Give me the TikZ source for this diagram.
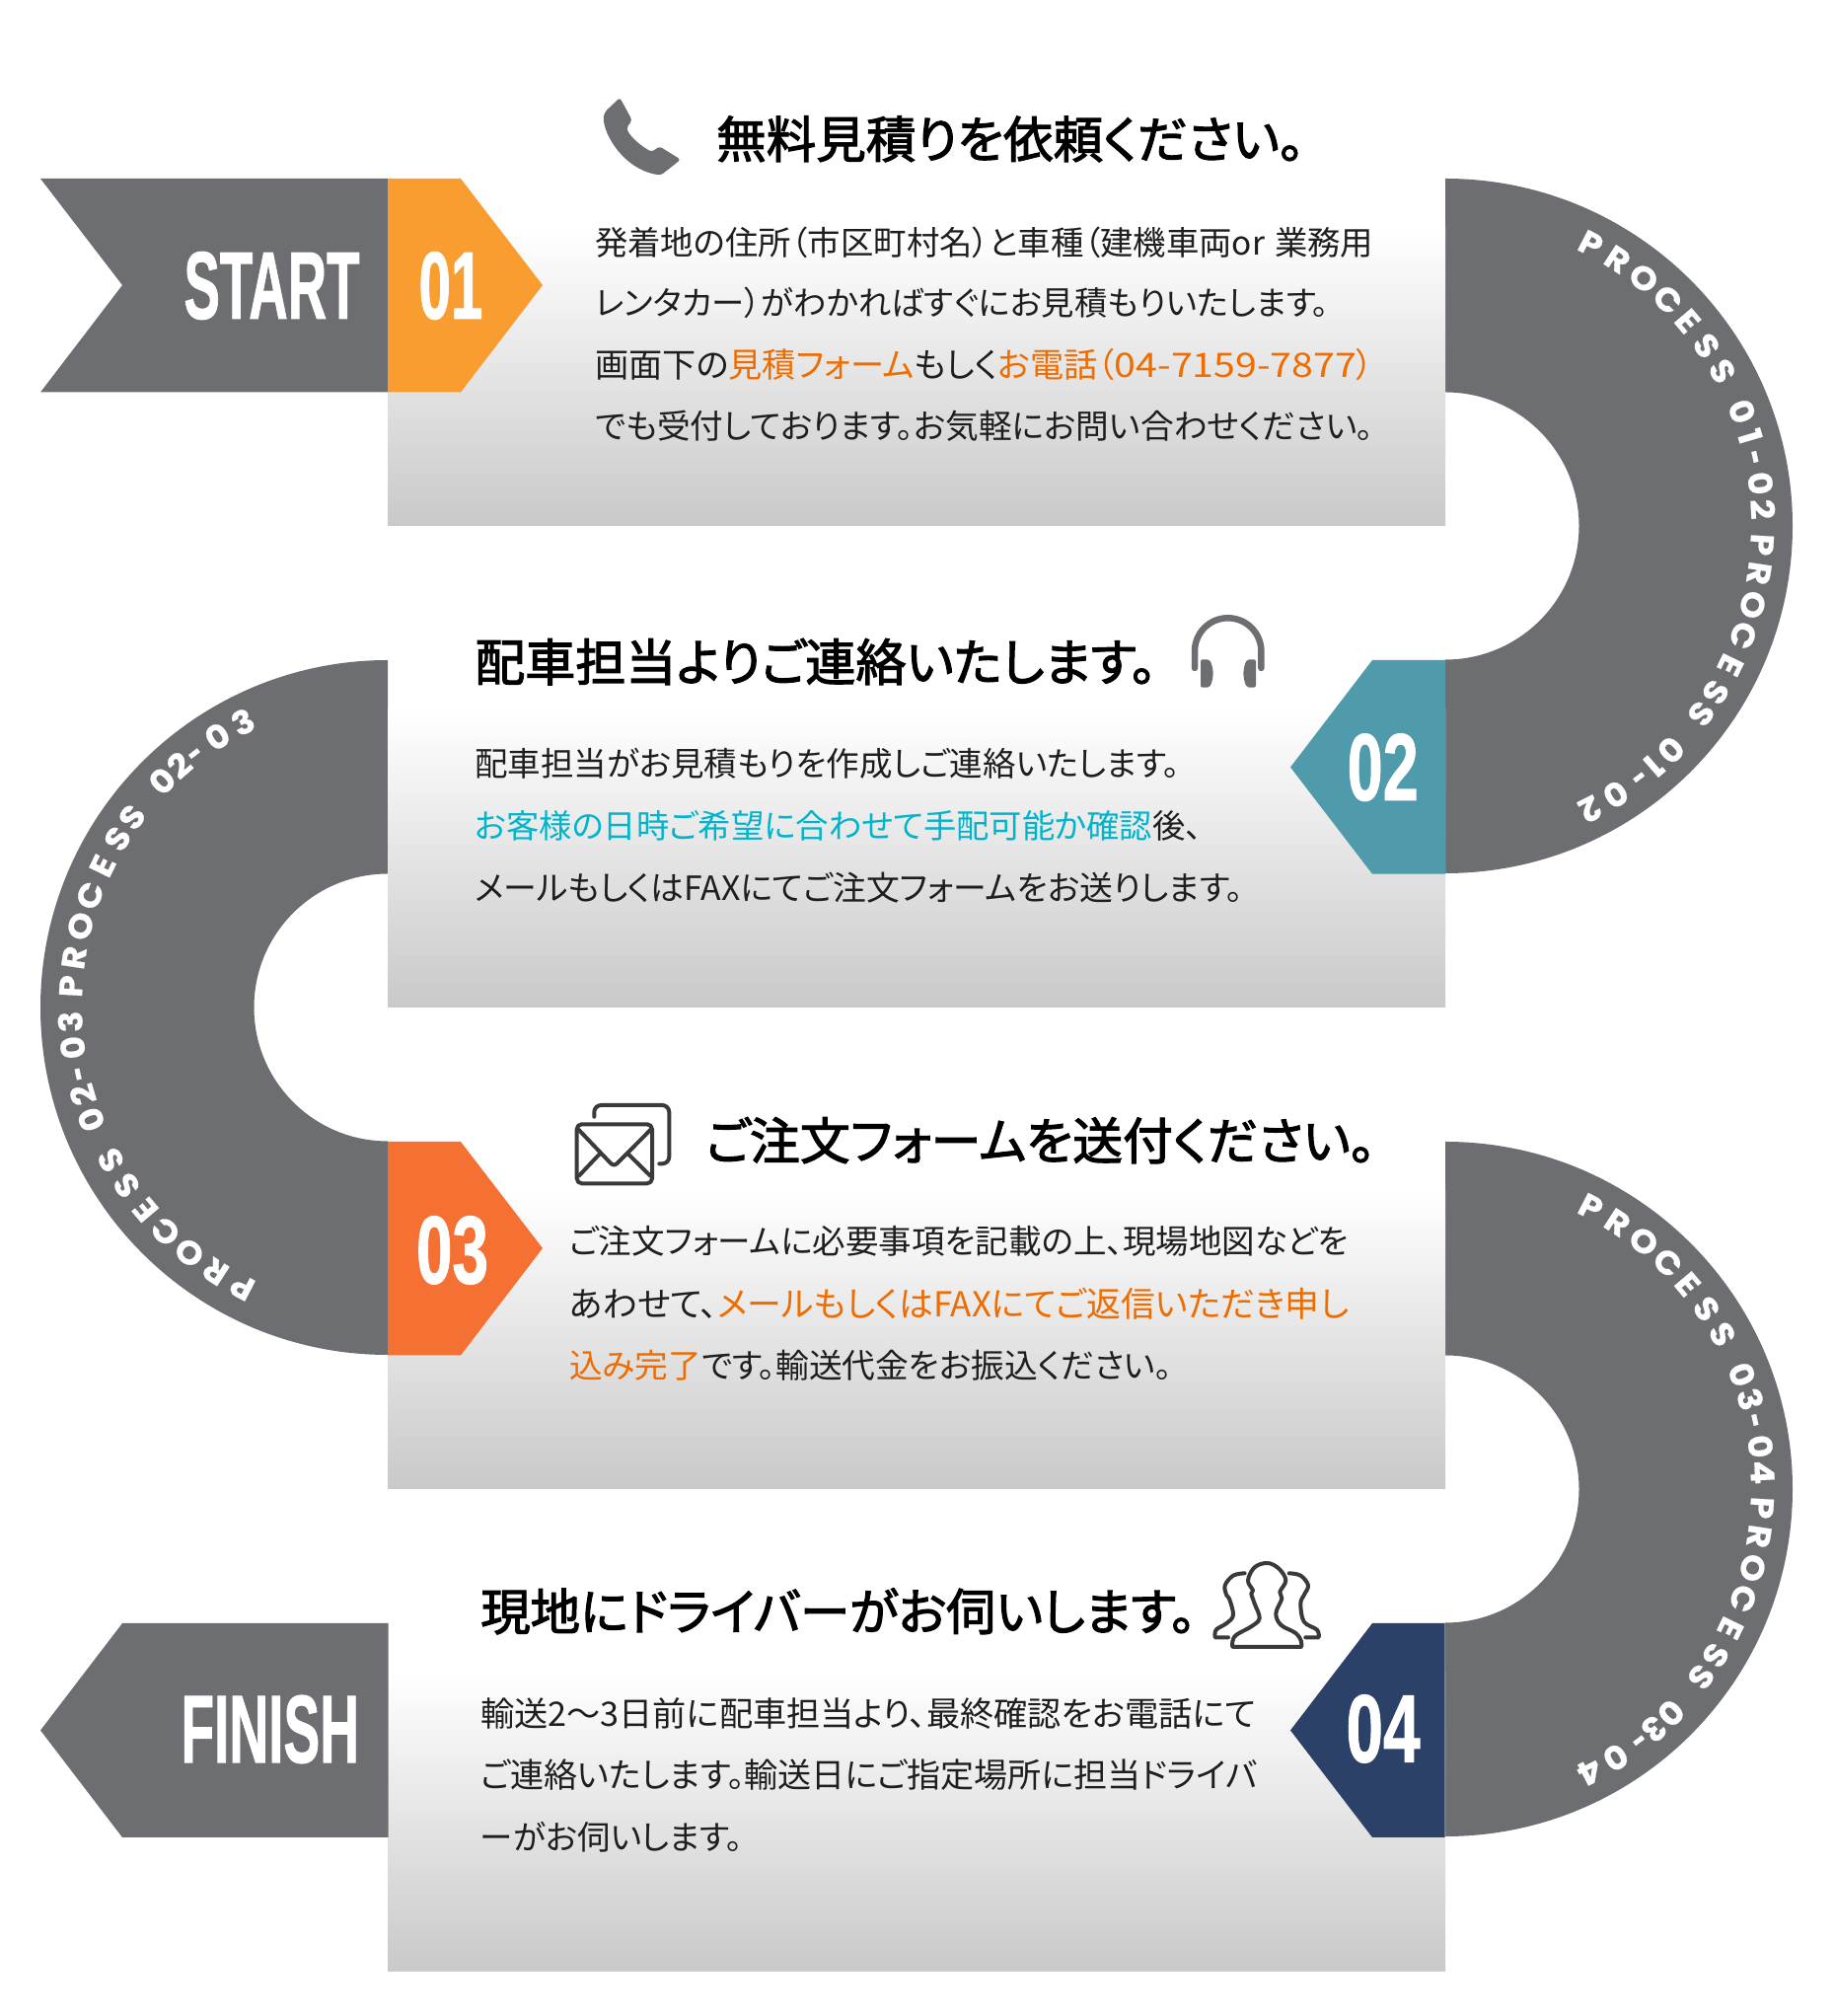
\documentclass[tikz,border=0pt]{standalone}
\usepackage{fontspec}
\usepackage{graphicx}
\newfontfamily\jp{Noto Sans CJK JP}[RawFeature={+palt}]
\newfontfamily\jpt{Noto Sans CJK JP}[RawFeature={+palt},FakeBold=2.2]
\newfontfamily\ringf{Poppins}[FakeBold=0.6,FakeStretch=1.08]
\newfontfamily\numf{Liberation Sans}[FakeBold=1.2]
\definecolor{ringgray}{HTML}{6D6E71}
\definecolor{boxbot}{HTML}{C9C9C9}
\definecolor{c01}{HTML}{F99D31}
\definecolor{c02}{HTML}{4F9AAB}
\definecolor{c03}{HTML}{F47133}
\definecolor{c04}{HTML}{2C4168}
\definecolor{hiO}{HTML}{EF6C00}
\definecolor{hiC}{HTML}{00B4CC}
\definecolor{bodyc}{HTML}{1E1E1E}
\definecolor{iconc}{HTML}{3A3A3A}
\newcommand\orng[1]{\textcolor{hiO}{#1}}
\newcommand\cyn[1]{\textcolor{hiC}{#1}}
\newcommand\hyp{\scalebox{.7}[1]{-}}
\tikzset{
  grad/.style={top color=white,bottom color=boxbot,draw=none},
  ringch/.style={anchor=base,inner sep=0pt,text=white,font=\ringf\bfseries\fontsize{33}{36}\selectfont},
  txt/.style={anchor=base west,inner sep=0pt},
  bigtxt/.style={inner sep=0pt,text=white},
  iconline/.style={draw=iconc,line width=4pt,line cap=round,line join=round},
}
\newcommand\bodyl[5]{\node[txt,name=#1,text=bodyc] at (#2,#3) {\resizebox{#4pt}{!}{\jp\fontsize{32}{38}\selectfont #5}};}
\newcommand\titlel[5]{\node[txt,name=#1,text=black] at (#2,#3) {\resizebox{#4pt}{!}{\jpt\fontsize{50}{60}\selectfont #5}};}
\newcommand\biglab[6]{\node[bigtxt,name=#1] at (#2,#3) {\resizebox{#4pt}{#5pt}{\numf\bfseries #6}};}
\newcommand\ringtext[8]{%
  \foreach[count=\i] \c/\o in {P/0,R/5.6,O/11.4,C/17.2,E/22.5,S/28.1,S/33.5,#5/41.6,#6/46.3,\hyp/50.2,#7/55,#8/59.7,
    P/66.1,R/71.3,O/77.1,C/82.9,E/88.7,S/94.3,S/99,#5/107.5,#6/111.7,\hyp/115.2,#7/120.3,#8/125.6}{%
    \pgfmathsetmacro\ang{#4-\o}
    \node[ringch,rotate=\ang-90,name=#1-\i] at ({#2+310*cos(\ang)},{#3-310*sin(\ang)}) {\c};
  }%
}
\begin{document}
\begin{tikzpicture}[x=1pt,y=1pt]
\useasboundingbox (0,0) rectangle (1858,2043);
% rings (y up)
\fill[ringgray] (1465,1862) arc[start angle=90,end angle=-90,radius=352pt] -- (1465,1374.5) arc[start angle=-90,end angle=90,radius=135.5pt] -- cycle;
\fill[ringgray] (393,1374) arc[start angle=90,end angle=270,radius=352pt] -- (393,886.5) arc[start angle=270,end angle=90,radius=135.5pt] -- cycle;
\fill[ringgray] (1465,886) arc[start angle=90,end angle=-90,radius=352pt] -- (1465,398.5) arc[start angle=-90,end angle=90,radius=135.5pt] -- cycle;
\begin{scope}[shift={(0,2043)},y=-1pt]
% boxes: white for the first stretch, then the gradient
\shade[grad] (393,231) rectangle (1465,533);
\shade[grad] (393,719) rectangle (1465,1021);
\shade[grad] (393,1207) rectangle (1465,1509);
\shade[grad] (393,1695) rectangle (1465,1997.5);
% flags
\fill[ringgray] (41,181) -- (393.5,181) -- (393.5,397.5) -- (41,397.5) -- (124,289) -- cycle;
\fill[ringgray] (393.5,1645) -- (393.5,1862) -- (124,1862) -- (41,1753.5) -- (124,1645) -- cycle;
\fill[c01] (393,181) -- (467,181) -- (550,289) -- (467,397.5) -- (393,397.5) -- cycle;
\fill[c02] (1465,669) -- (1391,669) -- (1308,777.5) -- (1391,885.7) -- (1465,885.7) -- cycle;
\fill[c03] (393,1157) -- (467,1157) -- (550,1265) -- (467,1373.5) -- (393,1373.5) -- cycle;
\fill[c04] (1464.5,1645) -- (1391,1645) -- (1308,1753.5) -- (1391,1862) -- (1464.5,1862) -- cycle;
% big labels
\biglab{start}{275.5}{289.5}{178}{67.7}{START}
\biglab{n01}{457}{289.5}{65}{67.7}{01}
\biglab{n02}{1401.7}{777.7}{72}{67.3}{02}
\biglab{n03}{458.5}{1267}{73}{68}{03}
\biglab{n04}{1402}{1752}{75}{68}{04}
\biglab{finish}{273.7}{1752.5}{180.5}{68}{FINISH}
% ring text
\ringtext{ra}{1465}{533}{62.7}{0}{1}{0}{2}
\ringtext{rb}{393}{1018.5}{242.7}{0}{2}{0}{3}
\ringtext{rc}{1465}{1509}{62.7}{0}{3}{0}{4}
% titles
\titlel{t1}{726}{160}{596}{無料見積りを依頼ください。}
\titlel{t2}{481}{690}{691}{配車担当よりご連絡いたします。}
\titlel{t3}{715}{1175}{679}{ご注文フォームを送付ください。}
\titlel{t4}{487}{1652}{725}{現地にドライバーがお伺いします。}
% body 1
\bodyl{b11}{603}{258.5}{789}{発着地の住所（市区町村名）と車種（建機車両or\hspace{.3em}業務用}
\bodyl{b12}{603}{320}{744}{レンタカー）がわかればすぐにお見積もりいたします。}
\bodyl{b13}{603}{383}{789}{画面下の\orng{見積フォーム}もしく\orng{お電話（\scalebox{1.15}[1]{04-7159-7877}）}}
\bodyl{b14}{603}{445}{789}{でも受付しております。お気軽にお問い合わせください。}
% body 2
\bodyl{b21}{481}{787}{715}{配車担当がお見積もりを作成しご連絡いたします。}
\bodyl{b22}{481}{850}{737}{\cyn{お客様の日時ご希望に合わせて手配可能か確認}後、}
\bodyl{b23}{481}{912.5}{779}{メールもしくはFAXにてご注文フォームをお送りします。}
% body 3
\bodyl{b31}{577}{1271}{790}{ご注文フォームに必要事項を記載の上、現場地図などを}
\bodyl{b32}{577}{1334.5}{790}{あわせて、\orng{メールもしくはFAXにてご返信いただき申し}}
\bodyl{b33}{577}{1397}{611}{\orng{込み完了}です。輸送代金をお振込ください。}
% body 4
\bodyl{b41}{487}{1750}{786}{輸送2～3日前に配車担当より、最終確認をお電話にて}
\bodyl{b42}{487}{1812}{787}{ご連絡いたします。輸送日にご指定場所に担当ドライバ}
\bodyl{b43}{487}{1875}{266}{ーがお伺いします。}
% phone icon
\fill[ringgray,rounded corners=3pt] (628.3,99) -- (613.3,113.3)
  .. controls (608,130) and (630,172) .. (670,177.5)
  -- (690,161.7) -- (668.3,148.3) -- (660.7,154)
  .. controls (650,148) and (640,140) .. (635,130)
  -- (640.7,121.7) -- cycle;
% headphones
\draw[ringgray,line width=6.5pt,line cap=round] (1211,677) -- (1211,660) arc[start angle=180,end angle=0,radius=33.7pt] -- (1278.4,677);
\fill[ringgray,rounded corners=2pt] (1217,668.3) -- (1226,668.3) .. controls (1230.5,678) and (1230.5,687) .. (1226,696.7) -- (1217,696.7) -- cycle;
\fill[ringgray,rounded corners=2pt] (1273,668.3) -- (1264,668.3) .. controls (1259.5,678) and (1259.5,687) .. (1264,696.7) -- (1273,696.7) -- cycle;
% mail icon
\draw[iconline,rounded corners=5pt] (584.7,1139.3) rectangle (661,1199.3);
\draw[iconline,rounded corners=4pt] (586.7,1145) -- (622.3,1182.3) -- (659.3,1145);
\draw[iconline] (607.3,1170) -- (586.7,1191.7);
\draw[iconline] (637.3,1170) -- (659.3,1191.7);
\draw[iconline,rounded corners=7pt] (602.3,1131.7) -- (602.3,1120) -- (678.3,1120) -- (678.3,1179.3) -- (668.3,1179.3);
% people icon
\begin{scope}[shift={(1210,1560)},x=.3333pt,y=-.3333pt]
\draw[iconline] plot[smooth,tension=.6] coordinates {(118,327) (118,310) (130,290) (175,265) (200,240) (185,195) (175,165) (180,155) (165,125) (185,85) (225,72) (260,90) (280,125) (262,160) (268,180) (250,225) (265,260) (310,285) (327,310) (327,327)} -- cycle;
\draw[iconline] plot[smooth,tension=.6] coordinates {(155,103) (120,110) (95,140) (100,170) (108,180) (120,230) (100,255) (68,275) (65,298)} -- (105,298);
\draw[iconline] plot[smooth,tension=.6] coordinates {(290,103) (325,110) (348,140) (335,170) (325,195) (335,250) (375,275) (380,298)} -- (340,298);
\end{scope}
\end{scope}
\end{tikzpicture}
\end{document}
